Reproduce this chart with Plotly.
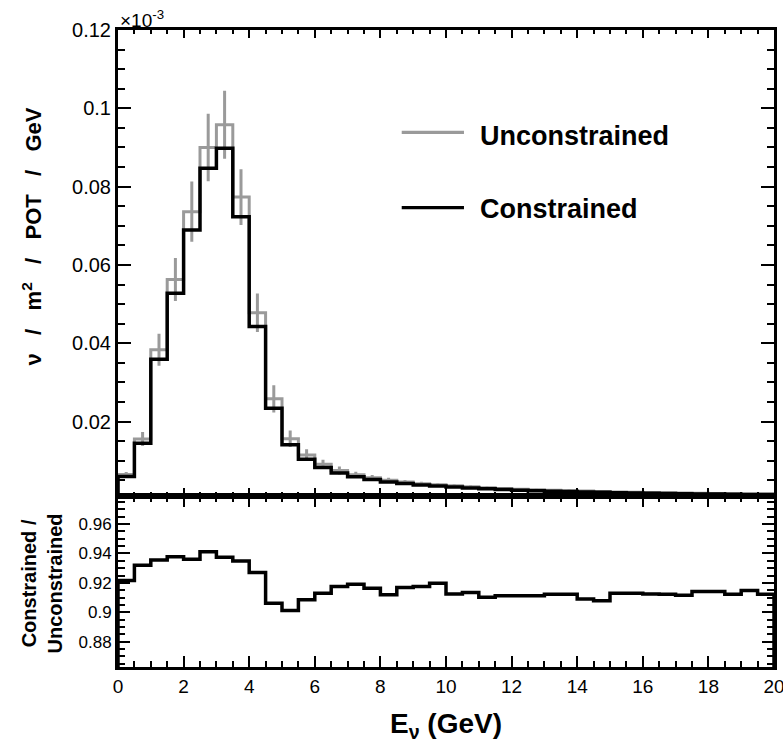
import plotly.graph_objects as go

# ---------------- data ----------------
BIN_EDGES = [0.0, 0.5, 1.0, 1.5, 2.0, 2.5, 3.0, 3.5, 4.0, 4.5, 5.0, 5.5, 6.0, 6.5, 7.0, 7.5,
             8.0, 8.5, 9.0, 9.5, 10.0, 10.5, 11.0, 11.5, 12.0, 12.5, 13.0, 13.5, 14.0, 14.5,
             15.0, 15.5, 16.0, 16.5, 17.0, 17.5, 18.0, 18.5, 19.0, 19.5, 20.0]
BIN_CENTERS = [0.25, 0.75, 1.25, 1.75, 2.25, 2.75, 3.25, 3.75, 4.25, 4.75, 5.25, 5.75, 6.25,
               6.75, 7.25, 7.75, 8.25, 8.75, 9.25, 9.75, 10.25, 10.75, 11.25, 11.75, 12.25,
               12.75, 13.25, 13.75, 14.25, 14.75, 15.25, 15.75, 16.25, 16.75, 17.25, 17.75,
               18.25, 18.75, 19.25, 19.75]

# flux in units of 1e-3 nu / m^2 / POT / GeV
CONSTRAINED = [0.0060, 0.0145, 0.0359, 0.0528, 0.0689, 0.0847, 0.0898, 0.0723, 0.0443, 0.0234,
               0.0141, 0.0104, 0.0083, 0.0069, 0.0059, 0.0052, 0.0046, 0.0042, 0.0038, 0.00355,
               0.0033, 0.00305, 0.00285, 0.00265, 0.0025, 0.00235, 0.00225, 0.00215, 0.00205,
               0.00195, 0.00185, 0.0018, 0.00172, 0.00166, 0.0016, 0.00155, 0.0015, 0.00146,
               0.00142, 0.00138]
UNCONSTRAINED = [0.00651, 0.01556, 0.03837, 0.05630, 0.07361, 0.08999, 0.09580, 0.07733,
                 0.04779, 0.02582, 0.01565, 0.01145, 0.00909, 0.00752, 0.00642, 0.00567,
                 0.00504, 0.00458, 0.00414, 0.00386, 0.00362, 0.00334, 0.00313, 0.00291,
                 0.00274, 0.00258, 0.00247, 0.00236, 0.00226, 0.00215, 0.00203, 0.00197,
                 0.00188, 0.00182, 0.00176, 0.00170, 0.00164, 0.00160, 0.00155, 0.00151]
UNCONSTRAINED_ERR = [0.0006, 0.0018, 0.0041, 0.0055, 0.0077, 0.0086, 0.0087, 0.0071, 0.0049,
                     0.0035, 0.0021, 0.0015, 0.0012, 0.0010, 0.0008, 0.0007, 0.0006, 0.0005,
                     0.0005, 0.0004, 0.0004, 0.0004, 0.0003, 0.0003, 0.0003, 0.0003, 0.0003,
                     0.0003, 0.0002, 0.0002, 0.0002, 0.0002, 0.0002, 0.0002, 0.0002, 0.0002,
                     0.0002, 0.0002, 0.0002, 0.0002]
RATIO = [0.9216, 0.9320, 0.9356, 0.9378, 0.9360, 0.9412, 0.9374, 0.9349, 0.9270, 0.9062,
         0.9012, 0.9085, 0.9130, 0.9175, 0.9190, 0.9164, 0.9120, 0.9168, 0.9175, 0.9198,
         0.9125, 0.9134, 0.9103, 0.9112, 0.9112, 0.9112, 0.9123, 0.9123, 0.9090, 0.9078,
         0.9130, 0.9130, 0.9125, 0.9123, 0.9116, 0.9141, 0.9141, 0.9123, 0.9148, 0.9123]

X_TICKS = [0, 2, 4, 6, 8, 10, 12, 14, 16, 18, 20]
X_TICKLABELS = ["0", "2", "4", "6", "8", "10", "12", "14", "16", "18", "20"]
Y_TICKS_TOP = [0.02, 0.04, 0.06, 0.08, 0.10, 0.12]
Y_TICKLABELS_TOP = ["0.02", "0.04", "0.06", "0.08", "0.1", "0.12"]
Y_TICKS_RATIO = [0.88, 0.90, 0.92, 0.94, 0.96]
Y_TICKLABELS_RATIO = ["0.88", "0.9", "0.92", "0.94", "0.96"]

# ---------------- style ----------------
X_RANGE = [0, 20]
Y_RANGE_TOP = [0.0011, 0.12]
Y_RANGE_RATIO = [0.8628, 0.9793]
FONT = "Liberation Sans, Arial, Helvetica, sans-serif"
GRAY = "#9a9a9a"
BLACK = "#000000"


def step_path(values, floor):
    """ROOT-like histogram outline: rises from the frame floor, steps, drops back."""
    xs = [BIN_EDGES[0]] + list(BIN_EDGES) + [BIN_EDGES[-1]]
    ys = [floor] + list(values) + [values[-1], floor]
    return xs, ys


fig = go.Figure()

ux, uy = step_path(UNCONSTRAINED, Y_RANGE_TOP[0])
fig.add_trace(go.Scatter(x=ux, y=uy, mode="lines", line=dict(color=GRAY, width=3, shape="hv"),
                         xaxis="x", yaxis="y", showlegend=False, hoverinfo="skip"))
fig.add_trace(go.Scatter(x=BIN_CENTERS, y=UNCONSTRAINED, mode="markers",
                         marker=dict(size=1, color="rgba(0,0,0,0)"),
                         error_y=dict(type="data", array=UNCONSTRAINED_ERR, width=0,
                                      thickness=3, color=GRAY),
                         xaxis="x", yaxis="y", showlegend=False, hoverinfo="skip"))
cx, cy = step_path(CONSTRAINED, Y_RANGE_TOP[0])
fig.add_trace(go.Scatter(x=cx, y=cy, mode="lines", line=dict(color=BLACK, width=3.5, shape="hv"),
                         xaxis="x", yaxis="y", showlegend=False, hoverinfo="skip"))

rx, ry = step_path(RATIO, Y_RANGE_RATIO[0])
fig.add_trace(go.Scatter(x=rx, y=ry, mode="lines", line=dict(color=BLACK, width=3.5, shape="hv"),
                         xaxis="x2", yaxis="y2", showlegend=False, hoverinfo="skip"))

axis_common = dict(showline=True, linecolor=BLACK, linewidth=3, mirror="ticks",
                   ticks="inside", tickcolor=BLACK, tickwidth=1.5,
                   showgrid=False, zeroline=False, automargin=False)

SPLIT = 0.269

fig.update_layout(
    width=783, height=742,
    margin=dict(l=118, r=9, t=30, b=75, autoexpand=False),
    paper_bgcolor="white", plot_bgcolor="white",
    font=dict(family=FONT, color=BLACK),
    xaxis=dict(domain=[0, 1], anchor="y", range=X_RANGE, tickvals=X_TICKS,
               showticklabels=False, ticklen=8,
               minor=dict(dtick=0.5, ticklen=4, ticks="inside", tickcolor=BLACK, tickwidth=1.5),
               **axis_common),
    yaxis=dict(domain=[SPLIT, 1], anchor="x", range=Y_RANGE_TOP, tickvals=Y_TICKS_TOP,
               ticktext=Y_TICKLABELS_TOP, ticklen=13, tickfont=dict(size=20),
               minor=dict(dtick=0.005, ticklen=7, ticks="inside", tickcolor=BLACK, tickwidth=1.5),
               **axis_common),
    xaxis2=dict(domain=[0, 1], anchor="y2", range=X_RANGE, tickvals=X_TICKS,
                ticktext=X_TICKLABELS, ticklen=11, tickfont=dict(size=19),
                ticklabeloverflow="allow",
                minor=dict(dtick=0.5, ticklen=6, ticks="inside", tickcolor=BLACK, tickwidth=1.5),
                **axis_common),
    yaxis2=dict(domain=[0, SPLIT], anchor="x2", range=Y_RANGE_RATIO, tickvals=Y_TICKS_RATIO,
                ticktext=Y_TICKLABELS_RATIO, ticklen=12, tickfont=dict(size=17),
                minor=dict(dtick=0.005, ticklen=7, ticks="inside", tickcolor=BLACK, tickwidth=1.5),
                **axis_common),
)

nb = "\u00a0"
sep = nb * 3 + "/" + nb * 3
annotations = [
    dict(text="×10<sup>-3</sup>", xref="paper", yref="paper", x=0, y=1,
         xanchor="left", yanchor="bottom", showarrow=False, font=dict(size=19), yshift=-3),
    dict(text="<b>ν" + sep + "m<sup>2</sup>" + sep + "POT" + sep + "GeV</b>",
         xref="paper", yref="paper", x=-0.131, y=0.676, xanchor="center", yanchor="middle",
         textangle=-90, showarrow=False, font=dict(size=22)),
    dict(text="<b>Constrained /<br>Unconstrained</b>", xref="paper", yref="paper",
         x=-0.116, y=0.131, xanchor="center", yanchor="middle", textangle=-90,
         showarrow=False, font=dict(size=20)),
    dict(text="<b>E<sub>ν</sub> (GeV)</b>", xref="paper", yref="paper", x=0.5, y=-0.092,
         xanchor="center", yanchor="middle", showarrow=False, font=dict(size=28)),
    dict(text="<b>Unconstrained</b>", xref="paper", yref="paper", x=0.5488, y=0.8336,
         xanchor="left", yanchor="middle", showarrow=False, font=dict(size=27)),
    dict(text="<b>Constrained</b>", xref="paper", yref="paper", x=0.5488, y=0.719,
         xanchor="left", yanchor="middle", showarrow=False, font=dict(size=27)),
]
fig.update_layout(annotations=annotations)

fig.add_shape(type="line", xref="paper", yref="paper", x0=0.4325, x1=0.5274, y0=0.8394, y1=0.8394,
              line=dict(color=GRAY, width=3.3))
fig.add_shape(type="line", xref="paper", yref="paper", x0=0.4325, x1=0.5274, y0=0.7210, y1=0.7210,
              line=dict(color=BLACK, width=3.3))

fig.write_html("out.html", config={"displayModeBar": False},
               post_script="document.body.style.margin='0px';document.body.style.overflow='hidden';")
